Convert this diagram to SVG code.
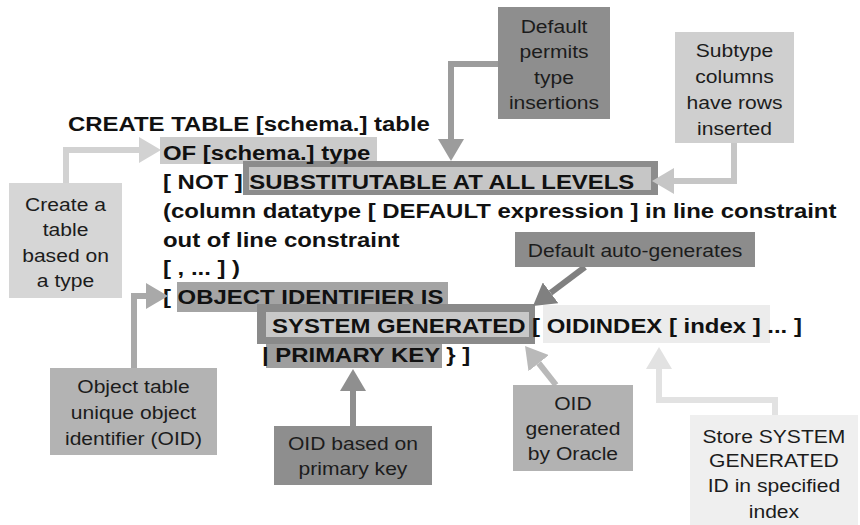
<svg xmlns="http://www.w3.org/2000/svg" width="860" height="525" viewBox="0 0 860 525">
  <style>
    .code { font-family: "Liberation Sans", Arial, sans-serif; font-weight: bold; font-size: 21px; fill: #111; }
    .note { font-family: "Liberation Sans", Arial, sans-serif; font-size: 18.5px; fill: #1c1c1c; text-anchor: middle; }
    .wire { fill: none; stroke-width: 6; stroke-linejoin: miter; }
  </style>
  <defs>
    <marker id="ah-a" viewBox="0 0 22 26" refX="0" refY="13" markerWidth="22" markerHeight="26" markerUnits="userSpaceOnUse" orient="auto"><path d="M0,0 L22,13 L0,26 Z" fill="#9c9c9c"/></marker>
    <marker id="ah-b" viewBox="0 0 22 26" refX="0" refY="13" markerWidth="22" markerHeight="26" markerUnits="userSpaceOnUse" orient="auto"><path d="M0,0 L22,13 L0,26 Z" fill="#c6c6c6"/></marker>
    <marker id="ah-c" viewBox="0 0 22 26" refX="0" refY="13" markerWidth="22" markerHeight="26" markerUnits="userSpaceOnUse" orient="auto"><path d="M0,0 L22,13 L0,26 Z" fill="#d2d2d2"/></marker>
    <marker id="ah-d" viewBox="0 0 22 26" refX="0" refY="13" markerWidth="22" markerHeight="26" markerUnits="userSpaceOnUse" orient="auto"><path d="M0,0 L22,13 L0,26 Z" fill="#808080"/></marker>
    <marker id="ah-e" viewBox="0 0 22 26" refX="0" refY="13" markerWidth="22" markerHeight="26" markerUnits="userSpaceOnUse" orient="auto"><path d="M0,0 L22,13 L0,26 Z" fill="#a9a9a9"/></marker>
    <marker id="ah-f" viewBox="0 0 22 26" refX="0" refY="13" markerWidth="22" markerHeight="26" markerUnits="userSpaceOnUse" orient="auto"><path d="M0,0 L22,13 L0,26 Z" fill="#8f8f8f"/></marker>
    <marker id="ah-g" viewBox="0 0 22 26" refX="0" refY="13" markerWidth="22" markerHeight="26" markerUnits="userSpaceOnUse" orient="auto"><path d="M0,0 L22,13 L0,26 Z" fill="#b9b9b9"/></marker>
    <marker id="ah-h" viewBox="0 0 22 26" refX="0" refY="13" markerWidth="22" markerHeight="26" markerUnits="userSpaceOnUse" orient="auto"><path d="M0,0 L22,13 L0,26 Z" fill="#e2e2e2"/></marker>
  </defs>

  <rect width="860" height="525" fill="#ffffff"/>

  <!-- CREATE TABLE syntax with highlighted clauses -->
  <g id="syntax">
    <rect x="160" y="137" width="217" height="27" fill="#cbcbcb"/>
    <rect x="243" y="161" width="415" height="34" fill="#8c8c8c"/>
    <rect x="249" y="167" width="402" height="23" fill="#c6c6c6"/>
    <rect x="177" y="282" width="271" height="30" fill="#a4a4a4"/>
    <rect x="543" y="305" width="227" height="38" fill="#ececec"/>
    <rect x="257" y="304" width="278" height="40" fill="#8a8a8a"/>
    <rect x="266" y="312" width="263" height="25" fill="#c8c8c8"/>
    <rect x="266" y="344" width="176" height="24" fill="#9e9e9e"/>
    <g transform="scale(1.14 1)" class="code">
      <text x="59.6" y="131">CREATE TABLE [schema.] table</text>
      <text x="143" y="160">OF [schema.] type</text>
      <text x="143" y="189">[ NOT ] SUBSTITUTABLE AT ALL LEVELS</text>
      <text x="143" y="218">(column datatype [ DEFAULT expression ] in line constraint</text>
      <text x="143" y="247">out of line constraint</text>
      <text x="143" y="275">[ , ... ] )</text>
      <text x="143" y="304">[ OBJECT IDENTIFIER IS</text>
      <text x="238.6" y="333">SYSTEM GENERATED [ OIDINDEX [ index ] ... ]</text>
      <text x="229.8" y="362">| PRIMARY KEY } ]</text>
    </g>
  </g>

  <!-- callout connectors -->
  <g id="connectors">
    <path class="wire" d="M498,64 H451 V139" stroke="#9c9c9c" marker-end="url(#ah-a)"/>
    <path class="wire" d="M734,143 V181 H674" stroke="#c6c6c6" marker-end="url(#ah-b)"/>
    <path class="wire" d="M66,183 V150 H139" stroke="#d2d2d2" marker-end="url(#ah-c)"/>
    <path class="wire" d="M585,267 L550.6,292.8" stroke="#808080" stroke-width="7" marker-end="url(#ah-d)"/>
    <path class="wire" d="M134,368 V296 H146" stroke="#a9a9a9" marker-end="url(#ah-e)"/>
    <path class="wire" d="M353,426 V391" stroke="#8f8f8f" marker-end="url(#ah-f)"/>
    <path class="wire" d="M556,385 L538.7,363.2" stroke="#b9b9b9" marker-end="url(#ah-g)"/>
    <path class="wire" d="M775,415 V400 H659 V369" stroke="#e2e2e2" marker-end="url(#ah-h)"/>
  </g>

  <g id="note-default-permits">
    <rect x="498" y="7" width="112" height="112" fill="#8e8e8e"/>
    <g transform="scale(1.14 1)"><text class="note" x="486" y="33">Default</text><text class="note" x="486" y="58.5">permits</text><text class="note" x="486" y="84">type</text><text class="note" x="486" y="109">insertions</text></g>
  </g>

  <g id="note-subtype">
    <rect x="675" y="32" width="119" height="111" fill="#cfcfcf"/>
    <g transform="scale(1.14 1)"><text class="note" x="644.3" y="57">Subtype</text><text class="note" x="644.3" y="83">columns</text><text class="note" x="644.3" y="109">have rows</text><text class="note" x="644.3" y="135">inserted</text></g>
  </g>

  <g id="note-create-table">
    <rect x="9" y="183" width="113" height="115" fill="#d6d6d6"/>
    <g transform="scale(1.14 1)"><text class="note" x="57.5" y="211">Create a</text><text class="note" x="57.5" y="236.5">table</text><text class="note" x="57.5" y="262">based on</text><text class="note" x="57.5" y="287">a type</text></g>
  </g>

  <g id="note-auto-generates">
    <rect x="515" y="232" width="240" height="35" fill="#8c8c8c"/>
    <g transform="scale(1.14 1)"><text class="note" x="557" y="257">Default auto-generates</text></g>
  </g>

  <g id="note-object-table">
    <rect x="50" y="368" width="167" height="87" fill="#b3b3b3"/>
    <g transform="scale(1.14 1)"><text class="note" x="117.1" y="393">Object table</text><text class="note" x="117.1" y="419">unique object</text><text class="note" x="117.1" y="445">identifier (OID)</text></g>
  </g>

  <g id="note-primary-key">
    <rect x="274" y="426" width="158" height="59" fill="#8e8e8e"/>
    <g transform="scale(1.14 1)"><text class="note" x="309.6" y="450">OID based on</text><text class="note" x="309.6" y="475">primary key</text></g>
  </g>

  <g id="note-oracle">
    <rect x="513" y="385" width="120" height="86" fill="#b2b2b2"/>
    <g transform="scale(1.14 1)"><text class="note" x="502.6" y="410">OID</text><text class="note" x="502.6" y="435">generated</text><text class="note" x="502.6" y="460">by Oracle</text></g>
  </g>

  <g id="note-oidindex">
    <rect x="690" y="415" width="168" height="110" fill="#efefef"/>
    <g transform="scale(1.14 1)"><text class="note" x="678.9" y="443">Store SYSTEM</text><text class="note" x="678.9" y="467">GENERATED</text><text class="note" x="678.9" y="492">ID in specified</text><text class="note" x="678.9" y="518">index</text></g>
  </g>
</svg>
